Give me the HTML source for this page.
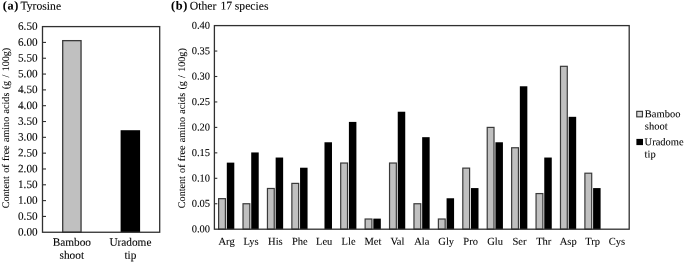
<!DOCTYPE html><html><head><meta charset="utf-8"><title>Free amino acids</title><style>html,body{margin:0;padding:0;background:#fff}svg{display:block}text{font-family:"Liberation Serif","Times New Roman",serif;fill:#000;stroke:#000;stroke-width:0.08px;text-rendering:geometricPrecision}</style></head><body>
<svg width="685" height="262" viewBox="0 0 685 262">
<rect width="685" height="262" fill="#fff"/>
<rect x="62.7" y="40.64" width="18.35" height="191.61" fill="#c0c0c0" stroke="#3a3a3a" stroke-width="1.3"/>
<rect x="120.6" y="130.21" width="19.5" height="102.04" fill="#000"/>
<rect x="42.5" y="26.6" width="117.20" height="205.65" fill="none" stroke="#303030" stroke-width="1.3"/>
<text x="37.60" y="235.50" font-size="11.2" text-anchor="end" transform="rotate(0.05 37.60 235.50)">0.00</text>
<line x1="42.5" y1="216.43" x2="46.0" y2="216.43" stroke="#303030" stroke-width="1.1"/>
<text x="37.60" y="219.68" font-size="11.2" text-anchor="end" transform="rotate(0.05 37.60 219.68)">0.50</text>
<line x1="42.5" y1="200.61" x2="46.0" y2="200.61" stroke="#303030" stroke-width="1.1"/>
<text x="37.60" y="203.86" font-size="11.2" text-anchor="end" transform="rotate(0.05 37.60 203.86)">1.00</text>
<line x1="42.5" y1="184.79" x2="46.0" y2="184.79" stroke="#303030" stroke-width="1.1"/>
<text x="37.60" y="188.04" font-size="11.2" text-anchor="end" transform="rotate(0.05 37.60 188.04)">1.50</text>
<line x1="42.5" y1="168.97" x2="46.0" y2="168.97" stroke="#303030" stroke-width="1.1"/>
<text x="37.60" y="172.22" font-size="11.2" text-anchor="end" transform="rotate(0.05 37.60 172.22)">2.00</text>
<line x1="42.5" y1="153.15" x2="46.0" y2="153.15" stroke="#303030" stroke-width="1.1"/>
<text x="37.60" y="156.40" font-size="11.2" text-anchor="end" transform="rotate(0.05 37.60 156.40)">2.50</text>
<line x1="42.5" y1="137.33" x2="46.0" y2="137.33" stroke="#303030" stroke-width="1.1"/>
<text x="37.60" y="140.58" font-size="11.2" text-anchor="end" transform="rotate(0.05 37.60 140.58)">3.00</text>
<line x1="42.5" y1="121.52" x2="46.0" y2="121.52" stroke="#303030" stroke-width="1.1"/>
<text x="37.60" y="124.77" font-size="11.2" text-anchor="end" transform="rotate(0.05 37.60 124.77)">3.50</text>
<line x1="42.5" y1="105.70" x2="46.0" y2="105.70" stroke="#303030" stroke-width="1.1"/>
<text x="37.60" y="108.95" font-size="11.2" text-anchor="end" transform="rotate(0.05 37.60 108.95)">4.00</text>
<line x1="42.5" y1="89.88" x2="46.0" y2="89.88" stroke="#303030" stroke-width="1.1"/>
<text x="37.60" y="93.13" font-size="11.2" text-anchor="end" transform="rotate(0.05 37.60 93.13)">4.50</text>
<line x1="42.5" y1="74.06" x2="46.0" y2="74.06" stroke="#303030" stroke-width="1.1"/>
<text x="37.60" y="77.31" font-size="11.2" text-anchor="end" transform="rotate(0.05 37.60 77.31)">5.00</text>
<line x1="42.5" y1="58.24" x2="46.0" y2="58.24" stroke="#303030" stroke-width="1.1"/>
<text x="37.60" y="61.49" font-size="11.2" text-anchor="end" transform="rotate(0.05 37.60 61.49)">5.50</text>
<line x1="42.5" y1="42.42" x2="46.0" y2="42.42" stroke="#303030" stroke-width="1.1"/>
<text x="37.60" y="45.67" font-size="11.2" text-anchor="end" transform="rotate(0.05 37.60 45.67)">6.00</text>
<text x="37.60" y="29.85" font-size="11.2" text-anchor="end" transform="rotate(0.05 37.60 29.85)">6.50</text>
<text x="71.80" y="245.70" font-size="11.3" text-anchor="middle" transform="rotate(0.05 71.80 245.70)">Bamboo</text>
<text x="71.80" y="258.70" font-size="11.3" text-anchor="middle" transform="rotate(0.05 71.80 258.70)">shoot</text>
<text x="130.40" y="245.70" font-size="11.3" text-anchor="middle" transform="rotate(0.05 130.40 245.70)">Uradome</text>
<text x="130.40" y="258.70" font-size="11.3" text-anchor="middle" transform="rotate(0.05 130.40 258.70)">tip</text>
<text transform="translate(8.5,128) rotate(-90)" font-size="10.1" word-spacing="0.85" text-anchor="middle" style="stroke-width:0.06px">Content of free amino acids (g / 100g)</text>
<text x="2.80" y="9.60" font-size="12.3" font-weight="bold" textLength="15.6" lengthAdjust="spacing" transform="rotate(0.05 2.80 9.60)">(a)</text>
<text x="20.40" y="9.60" font-size="11.7" transform="rotate(0.05 20.40 9.60)">Tyrosine</text>
<rect x="218.60" y="198.66" width="6.8" height="30.54" fill="#c0c0c0" stroke="#3a3a3a" stroke-width="1.2"/>
<rect x="226.80" y="162.63" width="7.5" height="66.57" fill="#000"/>
<text x="226.60" y="244.80" font-size="10.5" text-anchor="middle" transform="rotate(0.05 226.60 244.80)">Arg</text>
<rect x="243.02" y="203.75" width="6.8" height="25.45" fill="#c0c0c0" stroke="#3a3a3a" stroke-width="1.2"/>
<rect x="251.22" y="152.45" width="7.5" height="76.75" fill="#000"/>
<text x="251.00" y="244.80" font-size="10.5" text-anchor="middle" transform="rotate(0.05 251.00 244.80)">Lys</text>
<rect x="267.44" y="188.48" width="6.8" height="40.72" fill="#c0c0c0" stroke="#3a3a3a" stroke-width="1.2"/>
<rect x="275.64" y="157.54" width="7.5" height="71.66" fill="#000"/>
<text x="275.40" y="244.80" font-size="10.5" text-anchor="middle" transform="rotate(0.05 275.40 244.80)">His</text>
<rect x="291.86" y="183.39" width="6.8" height="45.81" fill="#c0c0c0" stroke="#3a3a3a" stroke-width="1.2"/>
<rect x="300.06" y="167.72" width="7.5" height="61.48" fill="#000"/>
<text x="299.80" y="244.80" font-size="10.5" text-anchor="middle" transform="rotate(0.05 299.80 244.80)">Phe</text>
<rect x="324.48" y="142.27" width="7.5" height="86.93" fill="#000"/>
<text x="324.20" y="244.80" font-size="10.5" text-anchor="middle" transform="rotate(0.05 324.20 244.80)">Leu</text>
<rect x="340.70" y="163.03" width="6.8" height="66.17" fill="#c0c0c0" stroke="#3a3a3a" stroke-width="1.2"/>
<rect x="348.90" y="121.91" width="7.5" height="107.29" fill="#000"/>
<text x="348.60" y="244.80" font-size="10.5" text-anchor="middle" transform="rotate(0.05 348.60 244.80)">Lle</text>
<rect x="365.12" y="219.02" width="6.8" height="10.18" fill="#c0c0c0" stroke="#3a3a3a" stroke-width="1.2"/>
<rect x="373.32" y="218.62" width="7.5" height="10.58" fill="#000"/>
<text x="373.00" y="244.80" font-size="10.5" text-anchor="middle" transform="rotate(0.05 373.00 244.80)">Met</text>
<rect x="389.54" y="163.03" width="6.8" height="66.17" fill="#c0c0c0" stroke="#3a3a3a" stroke-width="1.2"/>
<rect x="397.74" y="111.73" width="7.5" height="117.47" fill="#000"/>
<text x="397.40" y="244.80" font-size="10.5" text-anchor="middle" transform="rotate(0.05 397.40 244.80)">Val</text>
<rect x="413.96" y="203.75" width="6.8" height="25.45" fill="#c0c0c0" stroke="#3a3a3a" stroke-width="1.2"/>
<rect x="422.16" y="137.18" width="7.5" height="92.02" fill="#000"/>
<text x="421.80" y="244.80" font-size="10.5" text-anchor="middle" transform="rotate(0.05 421.80 244.80)">Ala</text>
<rect x="438.38" y="219.02" width="6.8" height="10.18" fill="#c0c0c0" stroke="#3a3a3a" stroke-width="1.2"/>
<rect x="446.58" y="198.26" width="7.5" height="30.94" fill="#000"/>
<text x="446.20" y="244.80" font-size="10.5" text-anchor="middle" transform="rotate(0.05 446.20 244.80)">Gly</text>
<rect x="462.80" y="168.12" width="6.8" height="61.08" fill="#c0c0c0" stroke="#3a3a3a" stroke-width="1.2"/>
<rect x="471.00" y="188.08" width="7.5" height="41.12" fill="#000"/>
<text x="470.60" y="244.80" font-size="10.5" text-anchor="middle" transform="rotate(0.05 470.60 244.80)">Pro</text>
<rect x="487.22" y="127.40" width="6.8" height="101.80" fill="#c0c0c0" stroke="#3a3a3a" stroke-width="1.2"/>
<rect x="495.42" y="142.27" width="7.5" height="86.93" fill="#000"/>
<text x="495.00" y="244.80" font-size="10.5" text-anchor="middle" transform="rotate(0.05 495.00 244.80)">Glu</text>
<rect x="511.64" y="147.76" width="6.8" height="81.44" fill="#c0c0c0" stroke="#3a3a3a" stroke-width="1.2"/>
<rect x="519.84" y="86.28" width="7.5" height="142.92" fill="#000"/>
<text x="519.40" y="244.80" font-size="10.5" text-anchor="middle" transform="rotate(0.05 519.40 244.80)">Ser</text>
<rect x="536.06" y="193.57" width="6.8" height="35.63" fill="#c0c0c0" stroke="#3a3a3a" stroke-width="1.2"/>
<rect x="544.26" y="157.54" width="7.5" height="71.66" fill="#000"/>
<text x="543.80" y="244.80" font-size="10.5" text-anchor="middle" transform="rotate(0.05 543.80 244.80)">Thr</text>
<rect x="560.48" y="66.32" width="6.8" height="162.88" fill="#c0c0c0" stroke="#3a3a3a" stroke-width="1.2"/>
<rect x="568.68" y="116.82" width="7.5" height="112.38" fill="#000"/>
<text x="568.20" y="244.80" font-size="10.5" text-anchor="middle" transform="rotate(0.05 568.20 244.80)">Asp</text>
<rect x="584.90" y="173.21" width="6.8" height="55.99" fill="#c0c0c0" stroke="#3a3a3a" stroke-width="1.2"/>
<rect x="593.10" y="188.08" width="7.5" height="41.12" fill="#000"/>
<text x="592.60" y="244.80" font-size="10.5" text-anchor="middle" transform="rotate(0.05 592.60 244.80)">Trp</text>
<text x="617.00" y="244.80" font-size="10.5" text-anchor="middle" transform="rotate(0.05 617.00 244.80)">Cys</text>
<rect x="214.4" y="25.6" width="414.80" height="203.60" fill="none" stroke="#303030" stroke-width="1.3"/>
<text x="210.10" y="232.30" font-size="10.5" text-anchor="end" transform="rotate(0.05 210.10 232.30)">0.00</text>
<line x1="214.4" y1="203.75" x2="217.3" y2="203.75" stroke="#303030" stroke-width="1.1"/>
<text x="210.10" y="206.85" font-size="10.5" text-anchor="end" transform="rotate(0.05 210.10 206.85)">0.05</text>
<line x1="214.4" y1="178.30" x2="217.3" y2="178.30" stroke="#303030" stroke-width="1.1"/>
<text x="210.10" y="181.40" font-size="10.5" text-anchor="end" transform="rotate(0.05 210.10 181.40)">0.10</text>
<line x1="214.4" y1="152.85" x2="217.3" y2="152.85" stroke="#303030" stroke-width="1.1"/>
<text x="210.10" y="155.95" font-size="10.5" text-anchor="end" transform="rotate(0.05 210.10 155.95)">0.15</text>
<line x1="214.4" y1="127.40" x2="217.3" y2="127.40" stroke="#303030" stroke-width="1.1"/>
<text x="210.10" y="130.50" font-size="10.5" text-anchor="end" transform="rotate(0.05 210.10 130.50)">0.20</text>
<line x1="214.4" y1="101.95" x2="217.3" y2="101.95" stroke="#303030" stroke-width="1.1"/>
<text x="210.10" y="105.05" font-size="10.5" text-anchor="end" transform="rotate(0.05 210.10 105.05)">0.25</text>
<line x1="214.4" y1="76.50" x2="217.3" y2="76.50" stroke="#303030" stroke-width="1.1"/>
<text x="210.10" y="79.60" font-size="10.5" text-anchor="end" transform="rotate(0.05 210.10 79.60)">0.30</text>
<line x1="214.4" y1="51.05" x2="217.3" y2="51.05" stroke="#303030" stroke-width="1.1"/>
<text x="210.10" y="54.15" font-size="10.5" text-anchor="end" transform="rotate(0.05 210.10 54.15)">0.35</text>
<text x="210.10" y="28.70" font-size="10.5" text-anchor="end" transform="rotate(0.05 210.10 28.70)">0.40</text>
<text transform="translate(184.7,128.2) rotate(-90)" font-size="10.1" word-spacing="0.78" text-anchor="middle" style="stroke-width:0.06px">Content of free amino acids (g / 100g)</text>
<text x="171.10" y="9.60" font-size="12.3" font-weight="bold" textLength="16.3" lengthAdjust="spacing" transform="rotate(0.05 171.10 9.60)">(b)</text>
<text x="189.70" y="9.60" font-size="11.7" transform="rotate(0.05 189.70 9.60)">Other</text>
<text x="220.50" y="9.60" font-size="11.7" transform="rotate(0.05 220.50 9.60)">17</text>
<text x="234.80" y="9.60" font-size="11.65" transform="rotate(0.05 234.80 9.60)">species</text>
<rect x="636.75" y="111.35" width="5.7" height="5.5" fill="#d6d6d6" stroke="#383838" stroke-width="1.15"/>
<text x="644.80" y="117.20" font-size="10.5" transform="rotate(0.05 644.80 117.20)">Bamboo</text>
<text x="644.80" y="129.40" font-size="10.5" transform="rotate(0.05 644.80 129.40)">shoot</text>
<rect x="636.4" y="138.9" width="6.6" height="6.2" fill="#000"/>
<text x="644.60" y="145.20" font-size="10.5" transform="rotate(0.05 644.60 145.20)">Uradome</text>
<text x="644.60" y="157.50" font-size="10.5" transform="rotate(0.05 644.60 157.50)">tip</text>
</svg></body></html>
